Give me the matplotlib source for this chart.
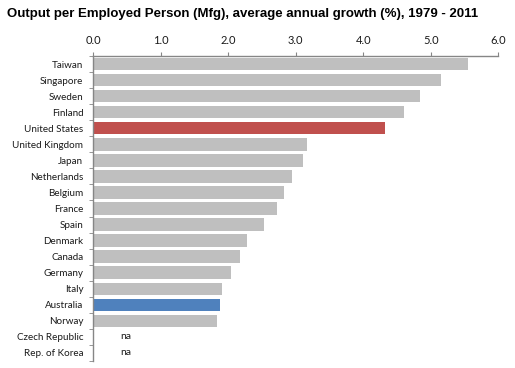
import matplotlib.pyplot as plt

countries = ["Taiwan", "Singapore", "Sweden", "Finland", "United States",
             "United Kingdom", "Japan", "Netherlands", "Belgium", "France",
             "Spain", "Denmark", "Canada", "Germany", "Italy", "Australia",
             "Norway", "Czech Republic", "Rep. of Korea"]
growth = [5.55, 5.15, 4.84, 4.60, 4.32, 3.17, 3.11, 2.95, 2.83, 2.72,
          2.53, 2.28, 2.18, 2.05, 1.91, 1.88, 1.84, None, None]
highlight = {"United States": "#C0504D", "Australia": "#4F81BD"}

plt.rcParams['font.family'] = ['Lato', 'DejaVu Sans']

fig = plt.figure(figsize=(5.15, 3.68), dpi=100)
ax = fig.add_axes([93 / 515, 1 - 361 / 368, (498.3 - 93) / 515, (361 - 56) / 368])

n = len(countries)
for i, (c, v) in enumerate(zip(countries, growth)):
    if v is None:
        ax.text(0.4, i, "na", va="center", ha="left", fontsize=7.5, color="#1a1a1a")
        continue
    ax.barh(i, v, height=0.78, color=highlight.get(c, "#BFBFBF"))

ax.set_xlim(0, 6)
ax.set_ylim(n - 0.5, -0.5)
ax.xaxis.tick_top()
ax.set_xticks(range(7))
ax.set_xticklabels([f"{x:.1f}" for x in range(7)], fontsize=8, color="#1a1a1a")
ax.set_yticks(range(n))
ax.set_yticklabels(countries, fontsize=7.1, color="#1a1a1a")
ax.set_yticks([i - 0.5 for i in range(n + 1)], minor=True)
ax.tick_params(axis="y", which="major", length=0, pad=7)
ax.tick_params(axis="y", which="minor", length=3, color="#868686")
ax.tick_params(axis="x", length=3, color="#868686", pad=4)

for s in ["right", "bottom"]:
    ax.spines[s].set_visible(False)
for s in ["top", "left"]:
    ax.spines[s].set_color("#868686")
    ax.spines[s].set_linewidth(1)

fig.text(7 / 515, 1 - 14 / 368, "Output per Employed Person (Mfg), average annual growth (%), 1979 - 2011",
         fontsize=9.5, fontweight="bold", family=["Liberation Sans"], va="center", ha="left")

fig.savefig("out.png", dpi=100)
